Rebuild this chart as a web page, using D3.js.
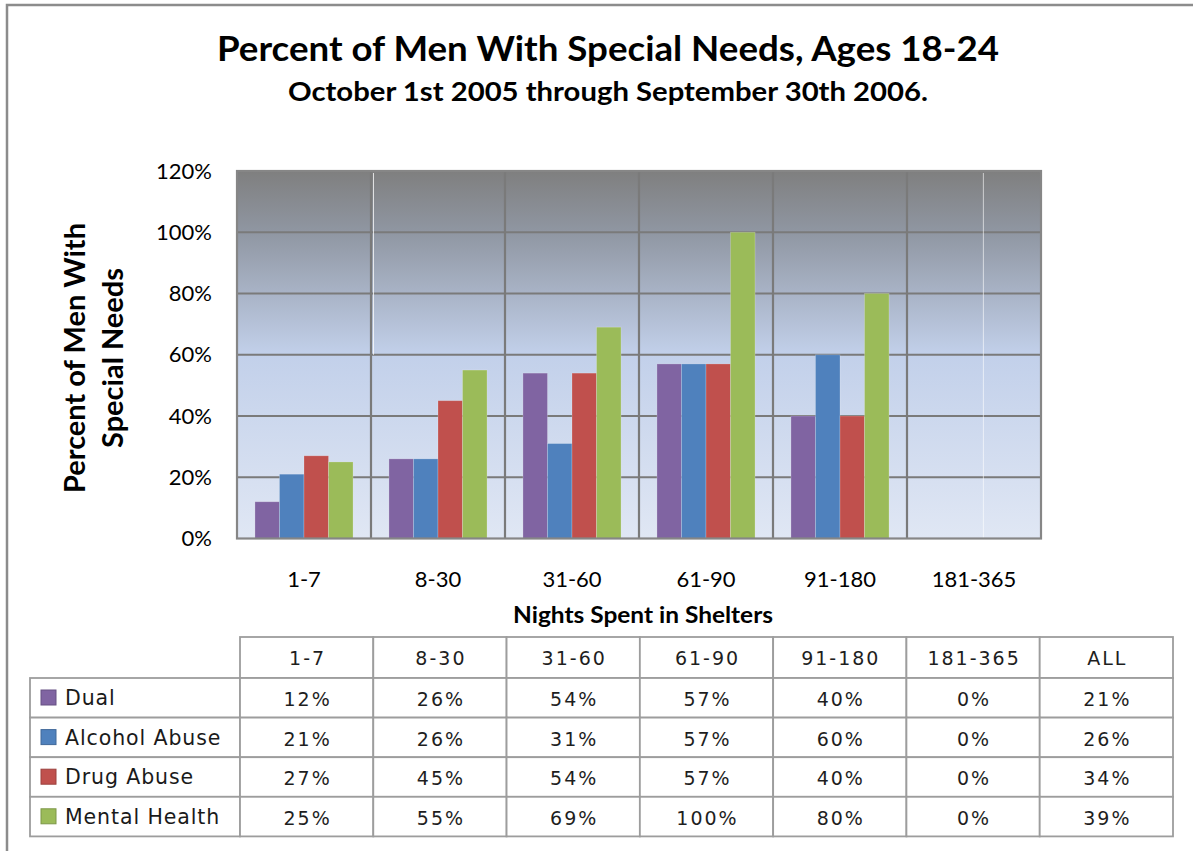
<!DOCTYPE html>
<html>
<head>
<meta charset="utf-8">
<script src="https://cdn.jsdelivr.net/npm/d3@7"></script>
<style>
  html, body { margin: 0; padding: 0; background: #fff; }
  svg { display: block; }
</style>
</head>
<body>
<svg id="chart" width="1193" height="851"></svg>
<script>
// ---------- DATA ----------
const categories = ["1-7", "8-30", "31-60", "61-90", "91-180", "181-365"];
const seriesNames = ["Dual", "Alcohol Abuse", "Drug Abuse", "Mental Health"];
const dualValues = [12, 26, 54, 57, 40, 0];
const alcoholValues = [21, 26, 31, 57, 60, 0];
const drugValues = [27, 45, 54, 57, 40, 0];
const mentalValues = [25, 55, 69, 100, 80, 0];
const allColumnLabel = "ALL";
const allValues = [21, 26, 34, 39];
const yTickValues = [0, 20, 40, 60, 80, 100, 120];
const titleText = "Percent of Men With Special Needs, Ages 18-24";
const subtitleText = "October 1st 2005 through September 30th 2006.";
const yTitleLines = ["Percent of Men With", "Special Needs"];
const xTitleText = "Nights Spent in Shelters";

const seriesValues = [dualValues, alcoholValues, drugValues, mentalValues];
const colors = ["#8064a2", "#4f81bd", "#c0504d", "#9bbb59"];

// ---------- LAYOUT ----------
const svg = d3.select("#chart");
const plot = { left: 237, right: 1041, top: 171, bottom: 538.5 };
const chartFont = "Lato, 'Open Sans', sans-serif";
const tableFont = "'DejaVu Sans', Verdana, sans-serif";

// outer frame (right/bottom edges fall outside the view)
svg.append("rect")
  .attr("x", 7).attr("y", 5).attr("width", 1200).attr("height", 900)
  .attr("fill", "none").attr("stroke", "#8c8c8c").attr("stroke-width", 2.5);

// titles
svg.append("text").attr("x", 608).attr("y", 61)
  .attr("text-anchor", "middle").attr("font-family", chartFont)
  .attr("font-weight", "bold").attr("font-size", 35).attr("fill", "#000")
  .attr("textLength", 782).attr("lengthAdjust", "spacingAndGlyphs")
  .text(titleText);
svg.append("text").attr("x", 608).attr("y", 101)
  .attr("text-anchor", "middle").attr("font-family", chartFont)
  .attr("font-weight", "bold").attr("font-size", 27).attr("fill", "#000")
  .attr("textLength", 640).attr("lengthAdjust", "spacingAndGlyphs")
  .text(subtitleText);

// scales
const x0 = d3.scaleBand().domain(categories).range([plot.left, plot.right]);
const bw = x0.bandwidth();
const x1 = d3.scaleBand().domain(seriesNames).range([bw * 0.134, bw * 0.866]);
const y = d3.scaleLinear().domain([0, 120]).range([plot.bottom, plot.top]);

// plot background gradient
const defs = svg.append("defs");
const grad = defs.append("linearGradient").attr("id", "bg")
  .attr("x1", 0).attr("y1", 0).attr("x2", 0).attr("y2", 1);
[[0, "#7f7f7f"], [0.17, "#9097a3"], [0.5, "#c2d0ea"], [1, "#e0e7f4"]]
  .forEach(([o, c]) => grad.append("stop").attr("offset", o).attr("stop-color", c));

svg.append("rect")
  .attr("x", plot.left).attr("y", plot.top)
  .attr("width", plot.right - plot.left).attr("height", plot.bottom - plot.top)
  .attr("fill", "url(#bg)");

// horizontal gridlines
svg.append("g").selectAll("line").data(yTickValues.slice(1)).join("line")
  .attr("x1", plot.left).attr("x2", plot.right)
  .attr("y1", d => y(d)).attr("y2", d => y(d))
  .attr("stroke", "#7a7a7a").attr("stroke-width", 2.2);

// vertical gridlines at category boundaries
svg.append("g").selectAll("line").data(categories.slice(1)).join("line")
  .attr("x1", d => x0(d)).attr("x2", d => x0(d))
  .attr("y1", plot.top).attr("y2", plot.bottom)
  .attr("stroke", "#7a7a7a").attr("stroke-width", 2.2);

// faint white artifact lines seen in the reference
svg.append("line").attr("x1", x0("8-30") + 2.5).attr("x2", x0("8-30") + 2.5)
  .attr("y1", plot.top + 2).attr("y2", y(60))
  .attr("stroke", "#ffffff").attr("stroke-opacity", 0.75).attr("stroke-width", 1);
svg.append("line").attr("x1", x0("181-365") + bw * 0.57).attr("x2", x0("181-365") + bw * 0.57)
  .attr("y1", plot.top + 2).attr("y2", plot.bottom)
  .attr("stroke", "#ffffff").attr("stroke-opacity", 0.6).attr("stroke-width", 1);

// bars
const groups = svg.append("g").selectAll("g").data(categories).join("g")
  .attr("transform", d => `translate(${x0(d)},0)`);
groups.selectAll("rect")
  .data((c, i) => seriesNames.map((s, j) => ({ s, j, v: seriesValues[j][i] })))
  .join("rect")
  .attr("x", d => x1(d.s))
  .attr("y", d => y(d.v))
  .attr("width", x1.bandwidth())
  .attr("height", d => y(0) - y(d.v))
  .attr("fill", d => colors[d.j])
  .attr("stroke", "rgba(255,255,255,0.25)").attr("stroke-width", 0.8);

// plot border
svg.append("rect")
  .attr("x", plot.left).attr("y", plot.top)
  .attr("width", plot.right - plot.left).attr("height", plot.bottom - plot.top)
  .attr("fill", "none").attr("stroke", "#868686").attr("stroke-width", 2.2);

// y axis labels
const yAxis = d3.axisLeft(y).tickValues(yTickValues).tickSize(0).tickPadding(0)
  .tickFormat(d => d + "%");
svg.append("g").attr("transform", `translate(${plot.left - 25},0)`).call(yAxis)
  .call(g => g.select(".domain").remove())
  .call(g => g.selectAll("text").attr("font-family", chartFont)
    .attr("font-size", 22).attr("fill", "#000"));

// x axis labels
const xAxis = d3.axisBottom(x0).tickSize(0).tickPadding(0);
svg.append("g").attr("transform", `translate(0,${plot.bottom + 33})`).call(xAxis)
  .call(g => g.select(".domain").remove())
  .call(g => g.selectAll("text").attr("font-family", chartFont)
    .attr("font-size", 22).attr("fill", "#000"));

// axis titles
svg.append("text").attr("x", 643).attr("y", 623)
  .attr("text-anchor", "middle").attr("font-family", chartFont)
  .attr("font-weight", "bold").attr("font-size", 23).attr("fill", "#000")
  .attr("textLength", 260).attr("lengthAdjust", "spacingAndGlyphs")
  .text(xTitleText);
const yt = svg.append("text")
  .attr("transform", "translate(0,358) rotate(-90)")
  .attr("text-anchor", "middle").attr("font-family", chartFont)
  .attr("font-weight", "bold").attr("font-size", 29).attr("fill", "#000");
yTitleLines.forEach((t, i) => {
  yt.append("tspan").attr("x", 0).attr("y", i === 0 ? 85 : 123).text(t);
});

// ---------- DATA TABLE ----------
const colLabels = categories.concat([allColumnLabel]);
const tx = d3.scaleBand().domain(colLabels).range([240, 1173]);
const rowTop = 678, rowH = 39.6, headTop = 637;
const table = svg.append("g");
const gridStroke = "#9d9d9d";

// header cells
table.selectAll("rect.h").data(colLabels).join("rect").attr("class", "h")
  .attr("x", d => tx(d)).attr("y", headTop)
  .attr("width", tx.bandwidth()).attr("height", rowTop - headTop)
  .attr("fill", "#fff").attr("stroke", gridStroke).attr("stroke-width", 1.8);
table.selectAll("text.h").data(colLabels).join("text").attr("class", "h")
  .attr("x", d => tx(d) + tx.bandwidth() / 2 + 1).attr("y", headTop + 28)
  .attr("text-anchor", "middle").attr("font-family", tableFont)
  .attr("font-size", 19).attr("letter-spacing", 2).attr("fill", "#1e1e1e")
  .text(d => d);

// body rows
seriesNames.forEach((s, j) => {
  const ry = rowTop + j * rowH;
  const vals = seriesValues[j].concat([allValues[j]]);
  table.append("rect").attr("x", 30).attr("y", ry)
    .attr("width", 240 - 30).attr("height", rowH)
    .attr("fill", "#fff").attr("stroke", gridStroke).attr("stroke-width", 1.8);
  table.append("rect").attr("x", 41).attr("y", ry + 12)
    .attr("width", 15).attr("height", 15)
    .attr("fill", colors[j]).attr("stroke", d3.color(colors[j]).darker(0.6)).attr("stroke-width", 1);
  table.append("text").attr("x", 65).attr("y", ry + 27)
    .attr("font-family", tableFont).attr("font-size", 20.5)
    .attr("letter-spacing", 0.9).attr("fill", "#1a1a1a").text(s);
  colLabels.forEach((c, k) => {
    table.append("rect").attr("x", tx(c)).attr("y", ry)
      .attr("width", tx.bandwidth()).attr("height", rowH)
      .attr("fill", "#fff").attr("stroke", gridStroke).attr("stroke-width", 1.8);
    table.append("text").attr("x", tx(c) + tx.bandwidth() / 2 + 1).attr("y", ry + 28)
      .attr("text-anchor", "middle").attr("font-family", tableFont)
      .attr("font-size", 19).attr("letter-spacing", 2).attr("fill", "#1e1e1e")
      .text(vals[k] + "%");
  });
});
</script>
</body>
</html>
